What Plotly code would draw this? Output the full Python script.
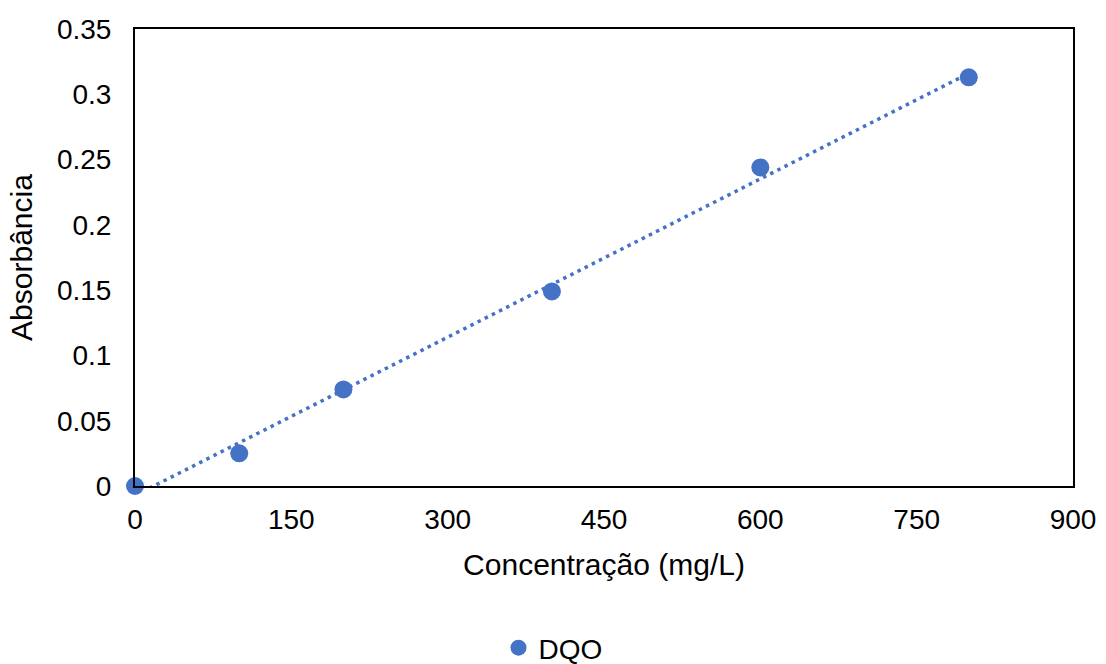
import numpy as np
import plotly.graph_objects as go

concentracao = [0, 100, 200, 400, 600, 800]
absorbancia = [0.0, 0.025, 0.074, 0.149, 0.244, 0.313]
x_ticks = [0, 150, 300, 450, 600, 750, 900]
y_ticks = [0, 0.05, 0.1, 0.15, 0.2, 0.25, 0.3, 0.35]

# linear trendline (least squares) from the data
slope, intercept = np.polyfit(concentracao, absorbancia, 1)
tx = np.array([0, max(concentracao)])
ty = slope * tx + intercept

blue = "#4472C4"
font = "Liberation Sans, Arial, sans-serif"

fig = go.Figure()
fig.add_trace(go.Scatter(x=tx, y=ty, mode="lines", showlegend=False,
                         line=dict(color=blue, width=3.5, dash="3.5px,4.5px"), hoverinfo="skip"))
fig.add_trace(go.Scatter(x=concentracao, y=absorbancia, mode="markers", name="DQO",
                         marker=dict(color=blue, size=18), cliponaxis=False))

fig.update_layout(
    width=1106, height=664,
    margin=dict(l=135, r=33, t=29, b=178, autoexpand=False),
    paper_bgcolor="white", plot_bgcolor="white",
    font=dict(family=font, size=28, color="black"),
    legend=dict(orientation="h", xref="container", x=0.5, xanchor="center",
                yref="container", y=(664 - 648) / 664, yanchor="middle",
                font=dict(size=28), itemsizing="trace"),
    xaxis=dict(range=[0, 900], tickvals=x_ticks, showgrid=False, zeroline=False,
               showline=True, linecolor="black", linewidth=2, mirror=True,
               ticks="", ticklen=0, ticklabelstandoff=7,
               tickfont=dict(size=28),
               title=dict(text="Concentração (mg/L)", font=dict(size=30), standoff=20)),
    yaxis=dict(range=[0, 0.35], tickvals=y_ticks, showgrid=False, zeroline=False,
               showline=True, linecolor="black", linewidth=2, mirror=True,
               ticks="", ticklen=0, ticklabelstandoff=16,
               tickfont=dict(size=28),
               title=dict(text="Absorbância", font=dict(size=30), standoff=15)),
)

fig.write_html("out.html")
